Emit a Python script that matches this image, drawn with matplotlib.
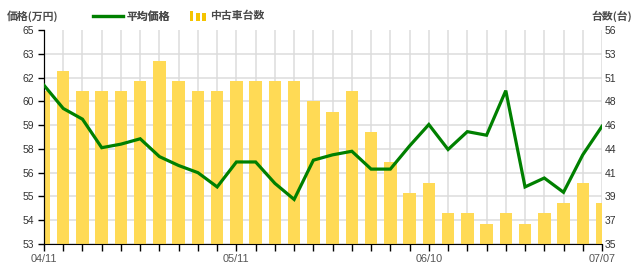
import numpy as np
import matplotlib
matplotlib.use('Agg')
from matplotlib import pyplot as plt
from matplotlib.lines import Line2D
from matplotlib.patches import Rectangle
from matplotlib.legend_handler import HandlerBase
from matplotlib.transforms import ScaledTranslation

dates = ['04/11', '04/14', '04/17', '04/20', '04/23', '04/26', '04/29', '05/02', '05/05', '05/08',
         '05/11', '05/14', '05/17', '05/20', '05/23', '05/26', '05/29', '06/01', '06/04', '06/07',
         '06/10', '06/13', '06/16', '06/19', '06/22', '06/25', '06/28', '07/01', '07/04', '07/07']
shown_dates = ['04/11', '05/11', '06/10', '07/07']

price = [61.9, 60.6, 60.0, 58.4, 58.6, 58.9, 57.9, 57.4, 57.0, 56.2,
         57.6, 57.6, 56.4, 55.5, 57.7, 58.0, 58.2, 57.2, 57.2, 58.5,
         59.7, 58.3, 59.3, 59.1, 61.6, 56.2, 56.7, 55.9, 58.0, 59.6]
count = [50, 52, 50, 50, 50, 51, 53, 51, 50, 50,
         51, 51, 51, 51, 49, 48, 50, 46, 43, 40,
         41, 38, 38, 37, 38, 37, 38, 39, 41, 39]

price_labels = ['53', '54', '55', '56', '58', '59', '60', '62', '63', '65']
count_labels = ['35', '37', '39', '41', '44', '46', '48', '51', '53', '56']

JP = ['Noto Sans CJK JP', 'DejaVu Sans']
NUM = ['Liberation Sans', 'DejaVu Sans']
GREEN = '#008000'
YELLOW = '#FFDA55'
TXT = '#4a4a4a'

''' legend icon: three little bars '''
class BarIcon(HandlerBase):
    def create_artists(self, legend, orig_handle, xdescent, ydescent, width, height, fontsize, trans):
        bw = width * 0.22
        gap = (width - 3 * bw) / 2
        hs = [1.0, 0.72, 0.8]
        out = []
        for i, h in enumerate(hs):
            r = Rectangle((-xdescent + i * (bw + gap), -ydescent - 1), bw, height * 1.05 * h + 1,
                          facecolor='#F5C400', edgecolor='none', transform=trans)
            out.append(r)
        return out

fig = plt.figure(figsize=(6.4, 2.65), dpi=100)
ax = fig.add_axes([44 / 640, 21 / 265, 558 / 640, 214 / 265])
x = np.arange(len(dates))

# bars on the primary axes (right scale), grid underneath
ax.bar(x, count, width=0.65, color=YELLOW, zorder=2)
ax.set_xlim(0, len(dates) - 1)
ax.set_ylim(35, 56)
ax.set_yticks(np.linspace(35, 56, 10))
ax.set_yticklabels(count_labels, fontfamily=NUM, fontsize=7.5, color='#333333')
ax.set_xticks(x)
ax.set_xticklabels([d if d in shown_dates else '' for d in dates],
                   fontfamily=NUM, fontsize=7.8, color='#555555')
shift = ScaledTranslation(-4 / 100, 0, fig.dpi_scale_trans)
for lab in ax.get_xticklabels():
    lab.set_transform(lab.get_transform() + shift)
ax.tick_params(axis='x', length=5, width=1, color='black', pad=2, direction='out')
ax.set_axisbelow(True)
ax.grid(True, color='#dcdcdc', linewidth=1.1)
ax.yaxis.get_gridlines()[-1].set_visible(False)
for s in ['top', 'right']:
    ax.spines[s].set_visible(False)
ax.spines['left'].set_color('black')
ax.spines['bottom'].set_color('black')

# line on twin axes (left scale)
ax2 = ax.twinx()
ax.yaxis.tick_right()
ax.tick_params(axis='y', length=0, pad=2)
ax2.plot(x, price, color=GREEN, linewidth=2.3, solid_joinstyle='miter', zorder=3)
ax2.set_ylim(53, 65)
ax2.set_yticks(np.linspace(53, 65, 10))
ax2.yaxis.tick_left()
ax2.set_yticklabels(price_labels, fontfamily=NUM, fontsize=7.5, color='#333333')
ax2.tick_params(axis='y', length=4, width=1, color='black', pad=3, direction='out')
for s in ['top', 'right', 'bottom']:
    ax2.spines[s].set_visible(False)
ax2.spines['left'].set_color('black')

fig.text(7 / 640, 1 - 16 / 265, '価格(万円)', family=JP, fontsize=7.8, fontweight='bold',
         color=TXT, ha='left', va='center')
fig.text(632 / 640, 1 - 16 / 265, '台数(台)', family=JP, fontsize=7.8, fontweight='bold',
         color=TXT, ha='right', va='center')

leg1 = fig.legend([Line2D([], [], color=GREEN, linewidth=2.3)], ['平均価格'],
                  loc='center left', bbox_to_anchor=(93 / 640, 1 - 16 / 265), frameon=False,
                  borderpad=0, borderaxespad=0, handlelength=2.75, handletextpad=0.35,
                  prop={'family': JP, 'size': 7.8, 'weight': 'bold'})
for t in leg1.get_texts():
    t.set_color(TXT)
leg2 = fig.legend([Rectangle((0, 0), 1, 1)], ['中古車台数'],
                  loc='center left', bbox_to_anchor=(190 / 640, 1 - 16 / 265), frameon=False,
                  borderpad=0, borderaxespad=0, handlelength=1.45, handleheight=0.8,
                  handletextpad=0.4, handler_map={Rectangle: BarIcon()},
                  prop={'family': JP, 'size': 7.8, 'weight': 'bold'})
for t in leg2.get_texts():
    t.set_color(TXT)
fig.add_artist(leg1)

fig.savefig('out.png', dpi=100)
